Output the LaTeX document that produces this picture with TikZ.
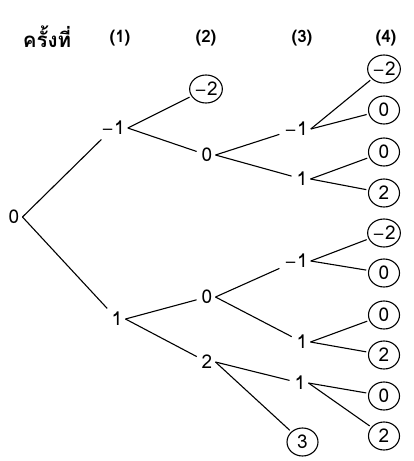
\documentclass[tikz,border=0pt]{standalone}
\usepackage{fontspec}
\setmainfont[Script=Thai]{Loma}
\newfontfamily\minusfont{DejaVu Sans}
\newcommand{\mn}{{\minusfont\fontsize{15}{18}\selectfont −}}
\usetikzlibrary{shapes.geometric}
\tikzset{
  lab/.style={inner sep=3pt, font=\fontsize{19}{20}\selectfont},
  leaf/.style={ellipse, draw, line width=1.1pt, inner sep=0pt,
    minimum width=31pt, minimum height=28pt, font=\fontsize{19}{20}\selectfont},
  head/.style={font=\fontsize{17}{20}\selectfont\bfseries},
  br/.style={line width=1.1pt, shorten >=2pt}
}
\begin{document}
\begin{tikzpicture}[x=1pt,y=-1pt]
\useasboundingbox (0,0) rectangle (413,461);
% column headings
\node[head, font=\fontsize{20.5}{22}\selectfont\bfseries] (h0) at (47,37) {ครั้งที่};
\node[head] (h1) at (120,38) {(1)};
\node[head] (h2) at (206,38) {(2)};
\node[head] (h3) at (302,38) {(3)};
\node[head] (h4) at (386,38) {(4)};
% start
\node[lab] (r) at (14,217) {0};
% step 1
\node[lab] (a1) at (113,128) {\mn1};
\node[lab] (a2) at (117,319) {1};
% step 2
\node[leaf] (b1) at (206,89) {\mn2};
\node[lab] (b2) at (207,155) {0};
\node[lab] (b3) at (207,297) {0};
\node[lab] (b4) at (207,362) {2};
% step 3
\node[lab] (c1) at (296,129) {\mn1};
\node[lab] (c2) at (302,179) {1};
\node[lab] (c3) at (296,261) {\mn1};
\node[lab] (c4) at (302,342) {1};
\node[lab] (c5) at (300,383) {1};
\node[leaf] (c6) at (302.5,442) {3};
% step 4
\node[leaf] (d1) at (384,69) {\mn2};
\node[leaf] (d2) at (384,110) {0};
\node[leaf] (d3) at (384,152) {0};
\node[leaf] (d4) at (384,193) {2};
\node[leaf] (d5) at (384,233) {\mn2};
\node[leaf] (d6) at (384,273) {0};
\node[leaf] (d7) at (384,315) {0};
\node[leaf] (d8) at (384,355) {2};
\node[leaf] (d9) at (384,396) {0};
\node[leaf] (d10) at (384,436) {2};
% branches
\draw[br] (r.east) -- (a1);
\draw[br] (r.east) -- (a2);
\draw[br] (a1.east) -- (b1);
\draw[br] (a1.east) -- (b2);
\draw[br] (a2.east) -- (b3);
\draw[br] (a2.east) -- (b4);
\draw[br] (b2.east) -- (c1);
\draw[br] (b2.east) -- (c2);
\draw[br] (b3.east) -- (c3);
\draw[br] (b3.east) -- (c4);
\draw[br] (b4.east) -- (c5);
\draw[br] (b4.east) -- (c6);
\draw[br] (c1.east) -- (d1);
\draw[br] (c1.east) -- (d2);
\draw[br] (c2.east) -- (d3);
\draw[br] (c2.east) -- (d4);
\draw[br] (c3.east) -- (d5);
\draw[br] (c3.east) -- (d6);
\draw[br] (c4.east) -- (d7);
\draw[br] (c4.east) -- (d8);
\draw[br] (c5.east) -- (d9);
\draw[br] (c5.east) -- (d10);
\end{tikzpicture}
\end{document}
